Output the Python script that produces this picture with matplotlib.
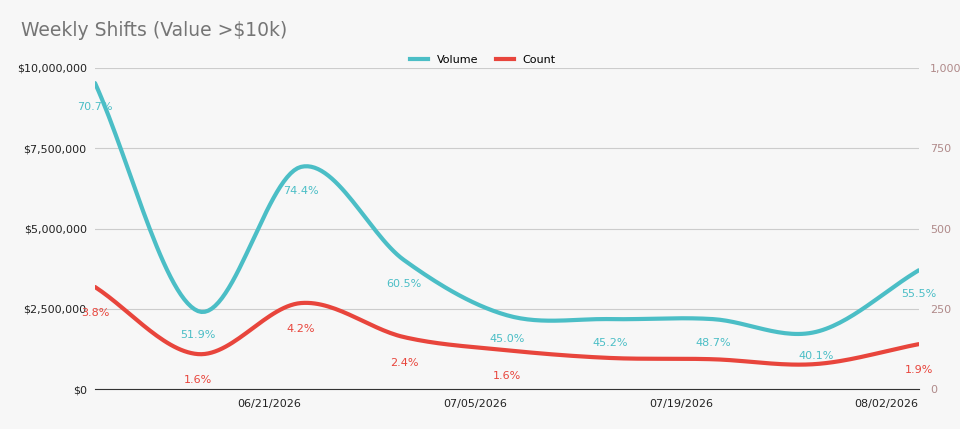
import matplotlib

matplotlib.use("Agg")
import matplotlib.pyplot as plt
import numpy as np
from matplotlib.ticker import FuncFormatter

dates = ["06/07/2026", "06/14/2026", "06/21/2026", "06/28/2026", "07/05/2026",
         "07/12/2026", "07/19/2026", "07/26/2026", "08/02/2026"]
volume = [9530000, 2430000, 6920000, 4020000, 2300000, 2180000, 2180000, 1780000, 3700000]
count = [318, 109, 268, 162, 121, 97, 93, 78, 140]
volume_pct = ["70.7%", "51.9%", "74.4%", "60.5%", "45.0%", "45.2%", "48.7%", "40.1%", "55.5%"]
count_pct = ["3.8%", "1.6%", "4.2%", "2.4%", "1.6%", "", "", "", "1.9%"]

TEAL = "#4bbec6"
RED = "#e8453c"
BG = "#f7f7f7"


def smooth(x, y, n=30):
    # catmull-rom, only for drawing the curve between the real points
    p = np.concatenate([[2 * y[0] - y[1]], y, [2 * y[-1] - y[-2]]])
    xs, ys = [], []
    for i in range(len(y) - 1):
        t = np.linspace(0, 1, n, endpoint=False)
        p0, p1, p2, p3 = p[i], p[i + 1], p[i + 2], p[i + 3]
        seg = 0.5 * (2 * p1 + (-p0 + p2) * t + (2 * p0 - 5 * p1 + 4 * p2 - p3) * t**2
                     + (-p0 + 3 * p1 - 3 * p2 + p3) * t**3)
        xs.append(x[i] + t * (x[i + 1] - x[i]))
        ys.append(seg)
    xs.append([x[-1]])
    ys.append([y[-1]])
    return np.concatenate(xs), np.concatenate(ys)


x = np.arange(len(dates), dtype=float)
fig = plt.figure(figsize=(9.6, 4.29), dpi=100, facecolor=BG)
ax = fig.add_axes([0.099, 0.093, 0.858, 0.7485], facecolor=BG)
ax2 = ax.twinx()

sx, sy = smooth(x, np.array(volume, dtype=float))
ax.plot(sx, sy, color=TEAL, lw=3, solid_capstyle="round", zorder=3)
cx, cy = smooth(x, np.array(count, dtype=float))
ax2.plot(cx, cy, color=RED, lw=3, solid_capstyle="round", zorder=3)

for xi, v, lab in zip(x, volume, volume_pct):
    ax.annotate(lab, (xi, v), xytext=(0, -24), textcoords="offset pixels",
                ha="center", va="center", color=TEAL, fontsize=8)
for xi, v, lab in zip(x, count, count_pct):
    if lab:
        ax2.annotate(lab, (xi, v), xytext=(0, -26), textcoords="offset pixels",
                     ha="center", va="center", color=RED, fontsize=8)

ax.set_xlim(0, len(dates) - 1)
ax.set_ylim(0, 10000000)
ax2.set_ylim(0, 1000)
ax.set_yticks(np.arange(0, 10000001, 2500000))
ax2.set_yticks(np.arange(0, 1001, 250))
ax.yaxis.set_major_formatter(FuncFormatter(lambda v, p: f"${v:,.0f}"))
ax2.yaxis.set_major_formatter(FuncFormatter(lambda v, p: f"{v:,.0f}"))
ax.set_xticks(x[2::2])
ax.set_xticklabels(dates[2::2])
ax.tick_params(axis="x", length=0, labelsize=8, colors="#222222", pad=7)
ax.tick_params(axis="y", length=0, labelsize=8, colors="#222222", pad=6)
ax2.tick_params(axis="y", length=0, labelsize=8, colors="#b08a8a", pad=8)
for lbl in ax.get_xticklabels():
    lbl.set_horizontalalignment("right")
ax.grid(axis="y", color="#cccccc", lw=0.8)
for a in (ax, ax2):
    for s in a.spines.values():
        s.set_visible(False)
ax.spines["bottom"].set_visible(True)
ax.spines["bottom"].set_color("#333333")

fig.text(0.022, 0.915, "Weekly Shifts (Value >$10k)", fontsize=13.5, color="#757575")
handles = [plt.Line2D([], [], color=TEAL, lw=3), plt.Line2D([], [], color=RED, lw=3)]
fig.legend(handles, ["Volume", "Count"], loc="center", bbox_to_anchor=(0.503, 0.86),
           ncol=2, frameon=False, fontsize=8, handlelength=1.6, columnspacing=1.6)

fig.savefig("out.png", dpi=100, facecolor=BG)
